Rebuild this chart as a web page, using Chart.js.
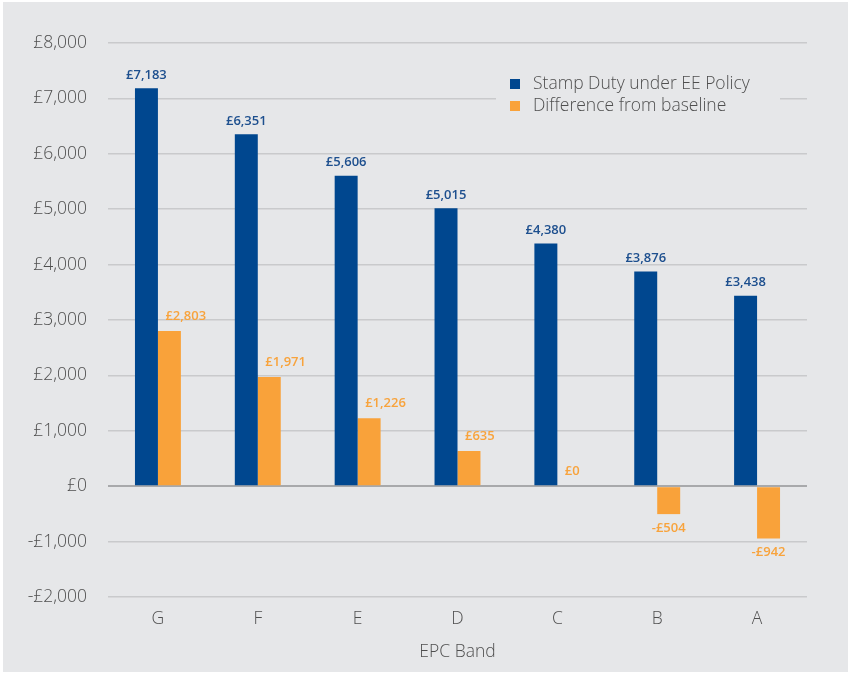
<!DOCTYPE html>
<html>
<head>
<meta charset="utf-8">
<script src="https://cdn.jsdelivr.net/npm/chart.js@4/dist/chart.umd.min.js"></script>
<style>
  html, body { margin: 0; padding: 0; background: #ffffff; }
  #wrap { width: 848px; height: 673px; position: relative; }
</style>
</head>
<body>
<div id="wrap"><canvas id="chart" width="848" height="673"></canvas></div>
<script>
// EPC bands and stamp duty figures
const bands = ['G', 'F', 'E', 'D', 'C', 'B', 'A'];
const stampDutyEE = [7183, 6351, 5606, 5015, 4380, 3876, 3438];
const diffFromBaseline = [2803, 1971, 1226, 635, 0, -504, -942];
const seriesNames = ['Stamp Duty under EE Policy', 'Difference from baseline'];
const yTicks = [8000, 7000, 6000, 5000, 4000, 3000, 2000, 1000, 0, -1000, -2000];

const BLUE = '#00478f';
const ORANGE = '#f9a23a';
const BLUE_TEXT = '#1d4f8e';
const ORANGE_TEXT = '#f8a33c';
const BG = '#e6e7e9';
const TEXT = '#4f4f4f';
const FONT = '"Open Sans", "DejaVu Sans", sans-serif';

function money(v) {
  const s = '£' + Math.abs(v).toLocaleString('en-GB');
  return v < 0 ? '-' + s : s;
}

// Panel background
const background = {
  id: 'panelBg',
  beforeDraw(chart) {
    const ctx = chart.ctx;
    ctx.save();
    ctx.fillStyle = BG;
    ctx.fillRect(3, 2, chart.width - 3, chart.height - 3);
    ctx.restore();
  }
};

// Value labels over / under each bar
const valueLabels = {
  id: 'valueLabels',
  afterDatasetsDraw(chart) {
    const ctx = chart.ctx;
    ctx.save();
    ctx.font = '600 13px ' + FONT;
    ctx.textBaseline = 'middle';
    chart.getDatasetMeta(0).data.forEach((bar, i) => {
      ctx.fillStyle = BLUE_TEXT;
      ctx.textAlign = 'center';
      ctx.fillText(money(stampDutyEE[i]), bar.x, bar.y - 13);
    });
    chart.getDatasetMeta(1).data.forEach((bar, i) => {
      const v = diffFromBaseline[i];
      ctx.fillStyle = ORANGE_TEXT;
      if (v < 0) {
        ctx.textAlign = 'center';
        ctx.fillText(money(v), bar.x, bar.y + 14);
      } else {
        ctx.textAlign = 'left';
        ctx.fillText(money(v), bar.x - 4, bar.y - 15);
      }
    });
    ctx.restore();
  }
};

// Two-row legend inside the plot
const boxLegend = {
  id: 'boxLegend',
  afterDraw(chart) {
    const ctx = chart.ctx;
    const x = 510, y0 = 84, gap = 22;
    ctx.save();
    ctx.fillStyle = BG;
    ctx.fillRect(496, 68, 284, 52);
    ctx.font = '300 17.5px ' + FONT;
    ctx.textBaseline = 'middle';
    ctx.textAlign = 'left';
    [BLUE, ORANGE].forEach((c, i) => {
      const y = y0 + i * gap;
      ctx.fillStyle = c;
      ctx.fillRect(x, y - 5, 10, 10);
      ctx.fillStyle = TEXT;
      ctx.fillText(seriesNames[i], x + 23, y);
    });
    ctx.restore();
  }
};

new Chart(document.getElementById('chart'), {
  type: 'bar',
  data: {
    labels: bands,
    datasets: [
      { label: seriesNames[0], data: stampDutyEE, backgroundColor: BLUE },
      { label: seriesNames[1], data: diffFromBaseline, backgroundColor: ORANGE }
    ]
  },
  options: {
    responsive: false,
    animation: false,
    devicePixelRatio: 1,
    layout: { padding: { top: 43, right: 41, bottom: 10, left: 0 } },
    datasets: { bar: { barPercentage: 1, categoryPercentage: 0.46 } },
    plugins: { legend: { display: false }, tooltip: { enabled: false } },
    scales: {
      x: {
        afterFit(scale) { scale.height = 66; },
        grid: { display: false, drawTicks: false },
        border: { display: false },
        ticks: { color: TEXT, font: { family: FONT, size: 17.5, weight: 300 }, padding: 12 },
        title: { display: true, text: 'EPC Band', color: TEXT, font: { family: FONT, size: 17.5, weight: 300 }, padding: { top: 4, bottom: 0 } }
      },
      y: {
        min: -2000,
        max: 8000,
        afterFit(scale) { scale.width = 108; },
        afterBuildTicks(scale) { scale.ticks = yTicks.map(v => ({ value: v })); },
        grid: {
          drawTicks: false,
          color: ctx => (ctx.tick && ctx.tick.value === 0) ? '#a8a9ab' : '#c9cacc',
          lineWidth: ctx => (ctx.tick && ctx.tick.value === 0) ? 2 : 1.5
        },
        border: { display: false },
        ticks: {
          color: TEXT,
          font: { family: FONT, size: 17.5, weight: 300 },
          padding: 21,
          callback: v => money(v)
        }
      }
    }
  },
  plugins: [background, valueLabels, boxLegend]
});
</script>
</body>
</html>
